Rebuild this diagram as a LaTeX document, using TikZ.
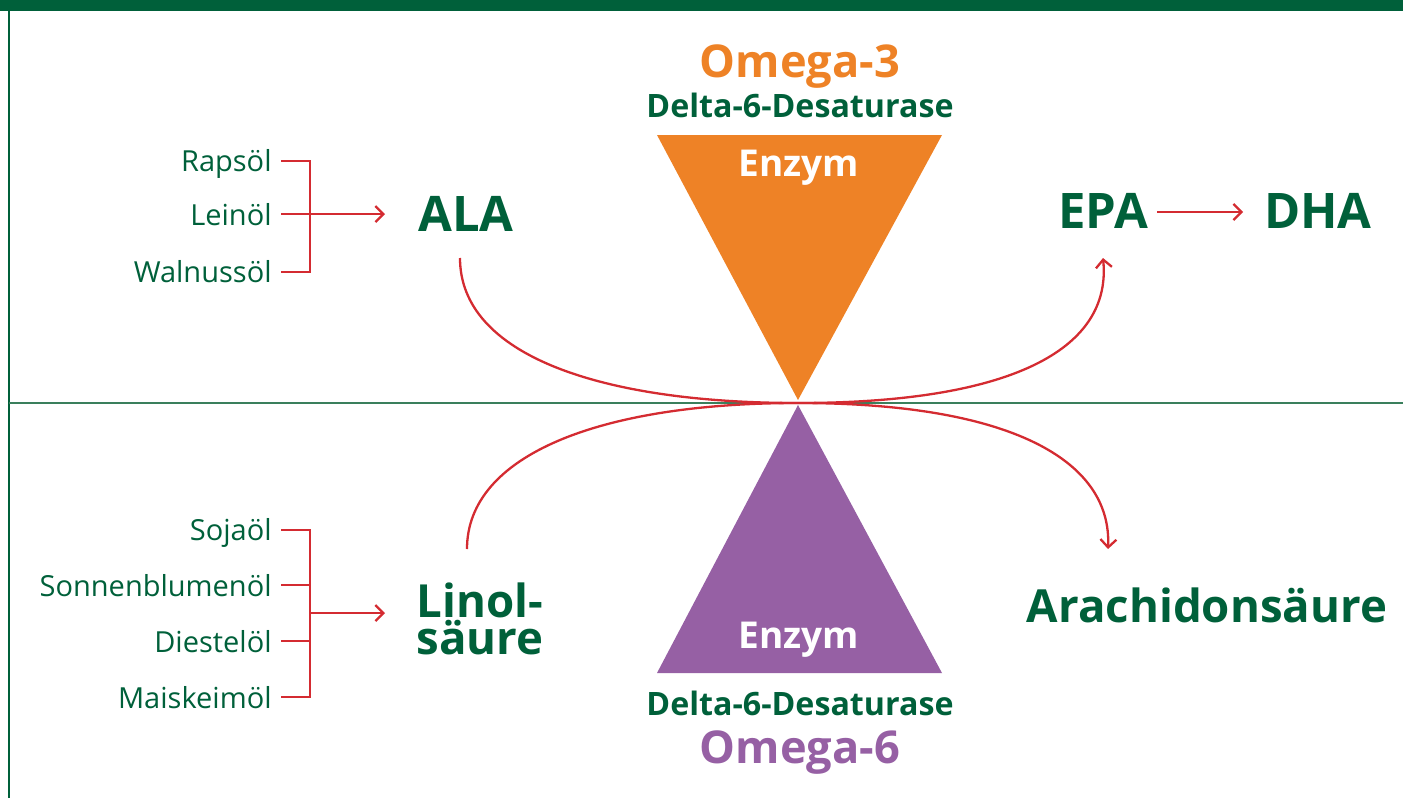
\documentclass[tikz,border=0pt]{standalone}
\usepackage{fontspec}
\setmainfont{Open Sans}
\usetikzlibrary{arrows.meta}
\definecolor{dgreen}{HTML}{00603A}
\definecolor{lgreen}{HTML}{3A7F5C}
\definecolor{orng}{HTML}{EE8226}
\definecolor{purp}{HTML}{9660A4}
\definecolor{rd}{HTML}{D42B31}
\tikzset{
  oil/.style={anchor=base east, text=dgreen, font=\fontsize{14.5}{17}\selectfont, inner sep=0pt},
  big/.style={anchor=base, text=dgreen, font=\bfseries\fontsize{24.5}{26}\selectfont, inner sep=0pt},
  mid/.style={anchor=base, text=dgreen, font=\bfseries\fontsize{22.8}{16.5}\selectfont, inner sep=0pt},
  dlt/.style={anchor=base, text=dgreen, font=\bfseries\fontsize{16.1}{18}\selectfont, inner sep=0pt},
  omg/.style={anchor=base, font=\bfseries\fontsize{22.6}{24}\selectfont, inner sep=0pt},
  enz/.style={anchor=base, text=white, font=\bfseries\fontsize{18.5}{20}\selectfont, inner sep=0pt},
  con/.style={draw=rd, line width=1.15pt},
  arr/.style={con, -{Straight Barb[length=4pt, width=8pt, line width=1.15pt]}}
}
\begin{document}
\begin{tikzpicture}[x=0.5pt, y=-0.5pt]
\useasboundingbox (0,0) rectangle (1403,798);
% frame
\fill[dgreen] (0,0) rectangle (1403,11);
\fill[dgreen] (8,0) rectangle (10,798);
\draw[lgreen, line width=0.8pt] (9,403) -- (1403,403);
% triangles
\fill[orng] (657,135) -- (942,135) -- (798,400) -- cycle;
\fill[purp] (798,405) -- (942,673) -- (657,673) -- cycle;
\node[enz] (enz1) at (799,176) {Enzym};
\node[enz] (enz2) at (799,648) {Enzym};
\node[omg, text=orng] (om3) at (800,77) {Omega-3};
\node[dlt] (d1) at (800,117) {Delta-6-Desaturase};
\node[dlt] (d2) at (800,715) {Delta-6-Desaturase};
\node[omg, text=purp] (om6) at (800,763) {Omega-6};
% main labels
\node[big] (ala) at (466,231) {ALA};
\node[big] (epa) at (1103,228) {EPA};
\node[big] (dha) at (1318,228) {DHA};
\node[mid, align=center, anchor=base] (lin) at (480,654) {Linol-\\säure};
\node[mid] (ara) at (1207,622) {Arachidonsäure};
% oils omega-3
\node[oil] (raps) at (272,171) {Rapsöl};
\node[oil] (lein) at (272,225) {Leinöl};
\node[oil] (waln) at (272,282) {Walnussöl};
% oils omega-6
\node[oil] (soja) at (272,540) {Sojaöl};
\node[oil] (sonn) at (272,596) {Sonnenblumenöl};
\node[oil] (dies) at (272,652) {Diestelöl};
\node[oil] (mais) at (272,708) {Maiskeimöl};
% coordinates
\coordinate (br1t) at (310,161);
\coordinate (br1b) at (310,272);
\coordinate (a1s) at (281,214);
\coordinate (a1e) at (385,214);
\coordinate (br2t) at (310,530);
\coordinate (br2b) at (310,697);
\coordinate (a2s) at (310,613);
\coordinate (a2e) at (385,613);
\coordinate (ctr) at (798,403);
\coordinate (c1s) at (460,258);
\coordinate (c1e) at (1103,258);
\coordinate (c2s) at (467,549);
\coordinate (c2e) at (1108,549);
% brackets
\draw[con] (281,161) -- (br1t) -- (br1b) -- (281,272);
\draw[arr] (a1s) -- (a1e);
\draw[con] (281,530) -- (br2t) -- (br2b) -- (281,697);
\draw[con] (281,585) -- (310,585);
\draw[con] (281,641) -- (310,641);
\draw[arr] (a2s) -- (a2e);
% EPA -> DHA
\draw[arr] (1157,212) -- (1243,212);
% curves
\draw[arr] (c1s) .. controls (460,355) and (600,403) .. (ctr) .. controls (1010,403) and (1112,350) .. (c1e);
\draw[arr] (c2s) .. controls (467,455) and (600,403) .. (ctr) .. controls (1010,403) and (1112,460) .. (c2e);
\end{tikzpicture}
\end{document}
